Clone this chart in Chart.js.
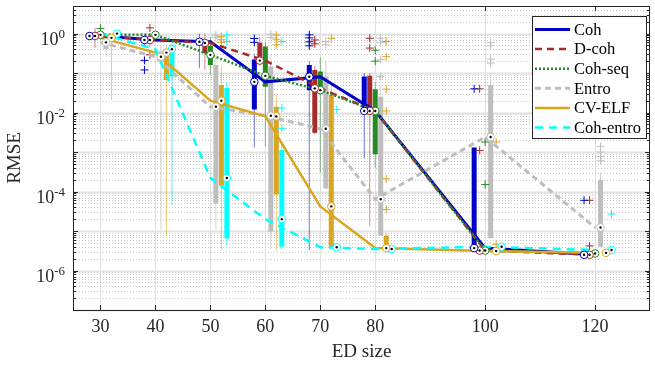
<!DOCTYPE html>
<html>
<head>
<meta charset="utf-8">
<script src="https://cdn.jsdelivr.net/npm/chart.js@4.4.0/dist/chart.umd.min.js"></script>
<style>
  html, body { margin: 0; padding: 0; background: #fff; }
  #wrap { width: 655px; height: 366px; }
</style>
</head>
<body>
<div id="wrap"><canvas id="myGraph"></canvas></div>
<script>
const edSizes = [30, 40, 50, 60, 70, 80, 100, 120];
const methods = ["Coh", "D-coh", "Coh-seq", "Entro", "CV-ELF", "Coh-entro"];
const xTicks = [30, 40, 50, 60, 70, 80, 100, 120];
const yTickExps = [0, -2, -4, -6];

// medians (also the values joined by the lines)
const medians = [
  [0.87, 0.69, 0.62, 0.06, 0.081, 0.011, 3.7e-6, 2.5e-6],
  [0.87, 0.69, 0.58, 0.207, 0.041, 0.011, 3.2e-6, 2.5e-6],
  [0.93, 0.93, 0.29, 0.085, 0.037, 0.011, 3.2e-6, 2.7e-6],
  [0.6, 0.26, 0.014, 8.3e-3, 3.9e-3, 6.4e-5, 2.4e-3, 1.23e-5],
  [0.78, 0.33, 0.02, 8e-3, 4.2e-5, 3.7e-6, 3.1e-6, 2.8e-6],
  [1.0, 0.4, 2.2e-4, 2e-5, 3.9e-6, 3.5e-6, 4e-6, 3.3e-6],
];
const q1 = [
  [0.8, 0.62, 0.55, 0.012, 0.037, 0.0117, 3.6e-6, 2.3e-6],
  [0.8, 0.62, 0.32, 0.195, 3.1e-3, 0.0117, 3e-6, 2.4e-6],
  [0.85, 0.85, 0.16, 0.045, 0.037, 8.8e-4, 3e-6, 2.5e-6],
  [0.41, 0.24, 5e-5, 9.6e-6, 1.2e-4, 7.6e-6, 6.6e-6, 4e-6],
  [0.7, 0.067, 1.4e-4, 8.4e-5, 4e-6, 3.5e-6, 2.9e-6, 2.7e-6],
  [0.9, 0.082, 6.6e-6, 4e-6, 3.6e-6, 3.3e-6, 3.7e-6, 3.1e-6],
];
const q3 = [
  [0.95, 0.78, 0.7, 0.22, 0.16, 0.082, 1.3e-3, 2.8e-6],
  [0.95, 0.78, 0.63, 0.59, 0.12, 0.085, 3.6e-6, 2.7e-6],
  [1.0, 1.0, 0.49, 0.47, 0.11, 0.039, 3.6e-6, 3e-6],
  [0.72, 0.35, 0.16, 0.146, 0.082, 0.025, 0.05, 2e-4],
  [0.85, 0.35, 0.05, 0.014, 0.028, 7.6e-6, 3.4e-6, 3e-6],
  [1.05, 0.52, 0.042, 1.13e-3, 4.2e-6, 3.8e-6, 4.3e-6, 3.5e-6],
];
const whiskLo = [
  [0.7, 0.5, 0.135, 1.3e-3, 3.3e-6, 7e-4, 3.5e-6, 2.2e-6],
  [0.43, 0.45, 0.12, 0.15, 2.8e-3, 1.3e-5, 2.9e-6, 2.3e-6],
  [0.7, 0.75, 0.09, 1.4e-3, 3e-4, 4e-4, 2.9e-6, 2.4e-6],
  [0.26, 1.07e-5, 1.07e-5, 3.4e-6, 1.2e-4, 7.6e-6, 6.6e-6, 4e-6],
  [0.021, 7.6e-6, 3.4e-6, 3.2e-6, 4e-6, 3.4e-6, 2.8e-6, 2.6e-6],
  [0.85, 4.6e-5, 4e-6, 3.5e-6, 3.5e-6, 3.2e-6, 3.6e-6, 3e-6],
];
const whiskHi = [
  [1.1, 0.95, 1.0, 0.3, 0.2, 0.1, 1.3e-3, 3e-6],
  [1.4, 1.0, 1.0, 0.8, 0.15, 0.1, 3.8e-6, 2.8e-6],
  [1.2, 1.2, 0.82, 0.6, 0.25, 0.06, 3.8e-6, 3.2e-6],
  [0.9, 0.5, 0.3, 0.3, 0.2, 0.05, 0.1, 3e-4],
  [0.95, 0.5, 0.15, 0.03, 0.05, 9e-6, 3.6e-6, 3.1e-6],
  [1.1, 0.7, 0.06, 1.5e-3, 4.5e-6, 4e-6, 4.5e-6, 3.7e-6],
];
const outliers = [
  [[], [0.21, 0.12], [], [0.75, 0.6], [0.93, 0.78, 0.62, 0.49], [], [0.04], [6e-5]],
  [[], [1.4, 0.29], [], [], [0.69, 0.55], [0.76, 0.43], [0.04, 1.1e-3], [6e-5, 4.2e-6]],
  [[1.35], [], [], [], [], [0.38, 0.2], [1.8e-3, 1.5e-4], []],
  [[], [], [0.92, 0.79], [0.97, 0.8], [0.63, 0.52], [0.76, 0.59, 0.22, 0.082], [0.59, 0.49, 0.225, 0.18], [1.4e-3, 1.0e-3, 7.7e-4, 6e-4]],
  [[], [], [0.85, 0.7, 0.6], [0.92, 0.72, 0.52], [0.76], [0.63, 0.26, 0.039, 0.011, 2.1e-4, 3.5e-5], [1.8e-3, 4.6e-6], []],
  [[], [], [0.92, 0.63], [0.63, 0.013, 4e-3], [0.012], [], [], [2.7e-5]],
];

// styles
const colors = ["#0000c8", "#a52a2a", "#228b22", "#bebebe", "#daa520", "#00ffff"];
const whiskColors = ["rgba(0,0,200,0.55)", "rgba(165,42,42,0.55)", "rgba(34,139,34,0.55)",
  "rgba(190,190,190,0.7)", "rgba(218,165,32,0.6)", "rgba(0,240,240,0.7)"];
const lineWidths = [3, 2.5, 2.5, 3, 2.5, 2.5];
const dashes = [[], [7, 5], [2, 2], [6, 4], [], [8, 6]];
const boxOffsets = [-2, -1, 0, 1, 2, 3];
const serif = "'Liberation Serif', 'Times New Roman', serif";

const segs = (m, lo, hi) => edSizes.flatMap((x, i) => [
  { x: x + boxOffsets[m], y: lo[m][i] },
  { x: x + boxOffsets[m], y: hi[m][i] },
  { x: x + boxOffsets[m], y: null },
]);

const datasets = [];
methods.forEach((name, m) => {
  datasets.push({
    label: name,
    data: edSizes.map((x, i) => ({ x, y: medians[m][i] })),
    borderColor: colors[m], borderWidth: lineWidths[m], borderDash: dashes[m],
    pointRadius: 0, tension: 0, order: 3.6 - m * 0.1, // later methods drawn on top
  });
  datasets.push({
    label: name + " whisker", data: segs(m, whiskLo, whiskHi),
    borderColor: whiskColors[m], borderWidth: 1, pointRadius: 0, spanGaps: false, order: 6,
  });
  datasets.push({
    label: name + " box", data: segs(m, q1, q3),
    borderColor: colors[m], borderWidth: 5, borderCapStyle: "butt", pointRadius: 0, spanGaps: false, order: 5,
  });
  datasets.push({
    label: name + " outliers",
    data: edSizes.flatMap((x, i) => outliers[m][i].map((v) => ({ x: x + boxOffsets[m], y: v }))),
    showLine: false, pointStyle: "cross", pointRadius: 4, pointBorderWidth: 1,
    pointBorderColor: colors[m], order: 4,
  });
  datasets.push({
    label: name + " median",
    data: edSizes.map((x, i) => ({ x: x + boxOffsets[m], y: medians[m][i] })),
    showLine: false, pointStyle: "circle", pointRadius: 3.8, pointBorderWidth: 1,
    pointBorderColor: colors[m], pointBackgroundColor: "#fff", order: 2,
  });
  datasets.push({
    label: name + " dot",
    data: edSizes.map((x, i) => ({ x: x + boxOffsets[m], y: medians[m][i] })),
    showLine: false, pointStyle: "circle", pointRadius: 1.2, pointBorderWidth: 0,
    pointBackgroundColor: "#000", order: 1,
  });
});

const frame = {
  id: "frame",
  beforeDatasetsDraw(chart) {
    const { ctx, chartArea: a, scales: { y } } = chart;
    ctx.save();
    for (let e = -7; e <= 0; e++) {
      for (let k = 1; k <= 9; k++) {
        const v = Number(k + "e" + e);
        if (v < y.min || v > y.max) continue;
        const py = Math.round(y.getPixelForValue(v)) + 0.5;
        ctx.beginPath();
        if (k === 1) {
          ctx.setLineDash([]);
          ctx.strokeStyle = "#e2e2e2";
          ctx.lineWidth = 2;
        } else {
          ctx.setLineDash([1, 2]);
          ctx.strokeStyle = "#c8c8c8";
          ctx.lineWidth = 1;
        }
        ctx.moveTo(a.left, py);
        ctx.lineTo(a.right, py);
        ctx.stroke();
      }
    }
    ctx.restore();
  },
  afterDraw(chart) {
    const { ctx, chartArea: a, scales: { x, y } } = chart;
    ctx.save();
    ctx.strokeStyle = "#262626";
    ctx.lineWidth = 1;
    ctx.setLineDash([]);
    // inward ticks
    ctx.beginPath();
    xTicks.forEach((v) => {
      const px = Math.round(x.getPixelForValue(v)) + 0.5;
      ctx.moveTo(px, a.bottom); ctx.lineTo(px, a.bottom - 5);
      ctx.moveTo(px, a.top); ctx.lineTo(px, a.top + 5);
    });
    for (let e = -7; e <= 0; e++) {
      for (let k = 1; k <= 9; k++) {
        const v = Number(k + "e" + e);
        if (v < y.min || v > y.max) continue;
        const py = Math.round(y.getPixelForValue(v)) + 0.5;
        const len = k === 1 ? 5 : 3;
        ctx.moveTo(a.left, py); ctx.lineTo(a.left + len, py);
        ctx.moveTo(a.right, py); ctx.lineTo(a.right - len, py);
      }
    }
    ctx.stroke();
    ctx.strokeRect(Math.round(a.left) + 0.5, Math.round(a.top) + 0.5,
      Math.round(a.right - a.left) - 1, Math.round(a.bottom - a.top));

    // y tick labels 10^n
    ctx.fillStyle = "#262626";
    yTickExps.forEach((e) => {
      const py = y.getPixelForValue(Number("1e" + e));
      const ex = String(e);
      ctx.font = "13px " + serif;
      ctx.textAlign = "right";
      ctx.textBaseline = "alphabetic";
      const w = ctx.measureText(ex).width;
      ctx.fillText(ex, a.left - 8, py + 4);
      ctx.font = "18px " + serif;
      ctx.fillText("10", a.left - 8 - w, py + 11);
    });

    // legend
    const lx = 532, ly = 16, lw = 114, lh = 122;
    ctx.fillStyle = "#fff";
    ctx.fillRect(lx, ly, lw, lh);
    ctx.strokeStyle = "#262626";
    ctx.strokeRect(lx + 0.5, ly + 0.5, lw, lh);
    ctx.font = "16.5px " + serif;
    ctx.textAlign = "left";
    ctx.textBaseline = "middle";
    methods.forEach((name, m) => {
      const ry = ly + 13.5 + m * 19.6;
      ctx.beginPath();
      ctx.strokeStyle = colors[m];
      ctx.lineWidth = lineWidths[m];
      ctx.setLineDash(dashes[m]);
      ctx.moveTo(lx + 3, ry);
      ctx.lineTo(lx + 38, ry);
      ctx.stroke();
      ctx.setLineDash([]);
      ctx.fillStyle = "#000";
      ctx.fillText(name, lx + 42, ry + 1);
    });
    ctx.restore();
  },
};

new Chart(document.getElementById("myGraph"), {
  type: "line",
  data: { datasets },
  options: {
    responsive: true,
    maintainAspectRatio: false,
    animation: false,
    layout: { padding: { top: 6, right: 3, left: 0, bottom: 0 } },
    plugins: { legend: { display: false }, tooltip: { enabled: false } },
    scales: {
      x: {
        type: "linear",
        min: 25,
        max: 130,
        afterBuildTicks: (scale) => { scale.ticks = xTicks.map((v) => ({ value: v })); },
        afterFit: (scale) => { scale.height = 56; },
        grid: { color: "#e0e0e0", drawTicks: false },
        border: { display: false },
        ticks: { font: { family: serif, size: 18 }, color: "#262626", padding: 6, maxRotation: 0 },
        title: { display: true, text: "ED size", font: { family: serif, size: 19 }, color: "#262626", padding: { top: 0, bottom: 3 } },
      },
      y: {
        type: "logarithmic",
        min: 1e-7,
        max: 5,
        afterFit: (scale) => { scale.width = 73; },
        grid: { display: false },
        border: { display: false },
        ticks: { display: false },
        title: { display: true, text: "RMSE", font: { family: serif, size: 19 }, color: "#262626", padding: { top: 4, bottom: 0 } },
      },
    },
  },
  plugins: [frame],
});
</script>
</body>
</html>
